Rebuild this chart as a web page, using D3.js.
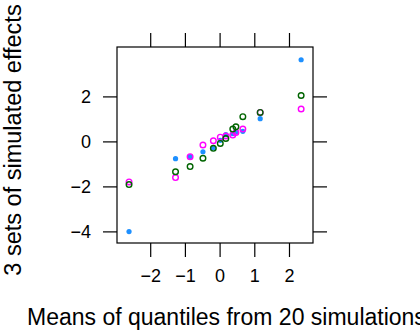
<!DOCTYPE html>
<html>
<head>
<meta charset="utf-8">
<script src="https://cdn.jsdelivr.net/npm/d3@7"></script>
<style>
  body { margin: 0; background: white; }
  svg text { font-family: "Liberation Sans", Arial, sans-serif; }
</style>
</head>
<body>
<div id="chart"></div>
<script>
// means of quantiles (x) and the three simulated sets (y)
const quantMeans = [-2.61, -1.27, -0.85, -0.48, -0.18, 0.02, 0.18, 0.38, 0.47, 0.67, 1.17, 2.35];
const setBlue    = [-4.01, -0.77, -0.68, -0.46, -0.29, 0.05, 0.30, 0.35, 0.42, 0.45, 1.01, 3.63];
const setMagenta = [-1.80, -1.61, -0.68, -0.16, 0.03, 0.19, 0.24, 0.28, 0.40, 0.55, 1.29, 1.44];
const setGreen   = [-1.92, -1.35, -1.12, -0.75, -0.31, -0.09, 0.13, 0.55, 0.65, 1.10, 1.29, 2.04];
const xTicks = [-2, -1, 0, 1, 2];
const yTicks = [-4, -2, 0, 2];

const W = 420, H = 331;
const margin = {top: 47, right: 107, bottom: 88, left: 117};
const width = W - margin.left - margin.right,
      height = H - margin.top - margin.bottom;

const x = d3.scaleLinear().domain([-2.957, 2.692]).range([0, width]);
const y = d3.scaleLinear().domain([-4.516, 4.196]).range([height, 0]);

const svg = d3.select("#chart").append("svg")
    .attr("width", W).attr("height", H)
  .append("g")
    .attr("transform", "translate(" + margin.left + "," + margin.top + ")");

const tickLen = 14;
const fmt = d => d < 0 ? "\u2212" + Math.abs(d) : String(d);

// bottom axis
svg.append("g")
    .attr("transform", "translate(0," + height + ")")
    .call(d3.axisBottom(x).tickValues(xTicks).tickSize(tickLen).tickPadding(12).tickFormat(fmt))
    .call(g => g.select(".domain").remove())
    .style("font-size", "18px");
// top axis
svg.append("g")
    .call(d3.axisTop(x).tickValues(xTicks).tickSize(tickLen).tickFormat(""))
    .call(g => g.select(".domain").remove());
// left axis
svg.append("g")
    .call(d3.axisLeft(y).tickValues(yTicks).tickSize(tickLen).tickPadding(12).tickFormat(fmt))
    .call(g => g.select(".domain").remove())
    .style("font-size", "18px");
// right axis
svg.append("g")
    .attr("transform", "translate(" + width + ",0)")
    .call(d3.axisRight(y).tickValues(yTicks).tickSize(tickLen).tickFormat(""))
    .call(g => g.select(".domain").remove());

svg.selectAll(".tick line").attr("stroke", "black").attr("stroke-width", 1.2);
svg.selectAll(".tick text").attr("fill", "black");

// panel box
svg.append("rect")
    .attr("x", 0).attr("y", 0)
    .attr("width", width).attr("height", height)
    .attr("fill", "none").attr("stroke", "black").attr("stroke-width", 1.2);

// points
svg.selectAll(".blue")
  .data(quantMeans.map((q, i) => [q, setBlue[i]]))
  .join("circle")
    .attr("cx", d => x(d[0])).attr("cy", d => y(d[1]))
    .attr("r", 2.6)
    .attr("fill", "#1E90FF");

svg.selectAll(".mag")
  .data(quantMeans.map((q, i) => [q, setMagenta[i]]))
  .join("circle")
    .attr("cx", d => x(d[0])).attr("cy", d => y(d[1]))
    .attr("r", 2.8)
    .attr("fill", "none").attr("stroke", "#FF00FF").attr("stroke-width", 1.4);

svg.selectAll(".grn")
  .data(quantMeans.map((q, i) => [q, setGreen[i]]))
  .join("circle")
    .attr("cx", d => x(d[0])).attr("cy", d => y(d[1]))
    .attr("r", 2.8)
    .attr("fill", "none").attr("stroke", "#006400").attr("stroke-width", 1.4);

// axis titles
svg.append("text")
    .attr("x", -margin.left + 27).attr("y", height + 82)
    .attr("text-anchor", "start")
    .style("font-size", "23px")
    .text("Means of quantiles from 20 simulations");

svg.append("text")
    .attr("transform", "rotate(-90)")
    .attr("x", -(140 - margin.top)).attr("y", -margin.left + 21)
    .attr("text-anchor", "middle")
    .style("font-size", "23.5px")
    .text("3 sets of simulated effects");
</script>
</body>
</html>
